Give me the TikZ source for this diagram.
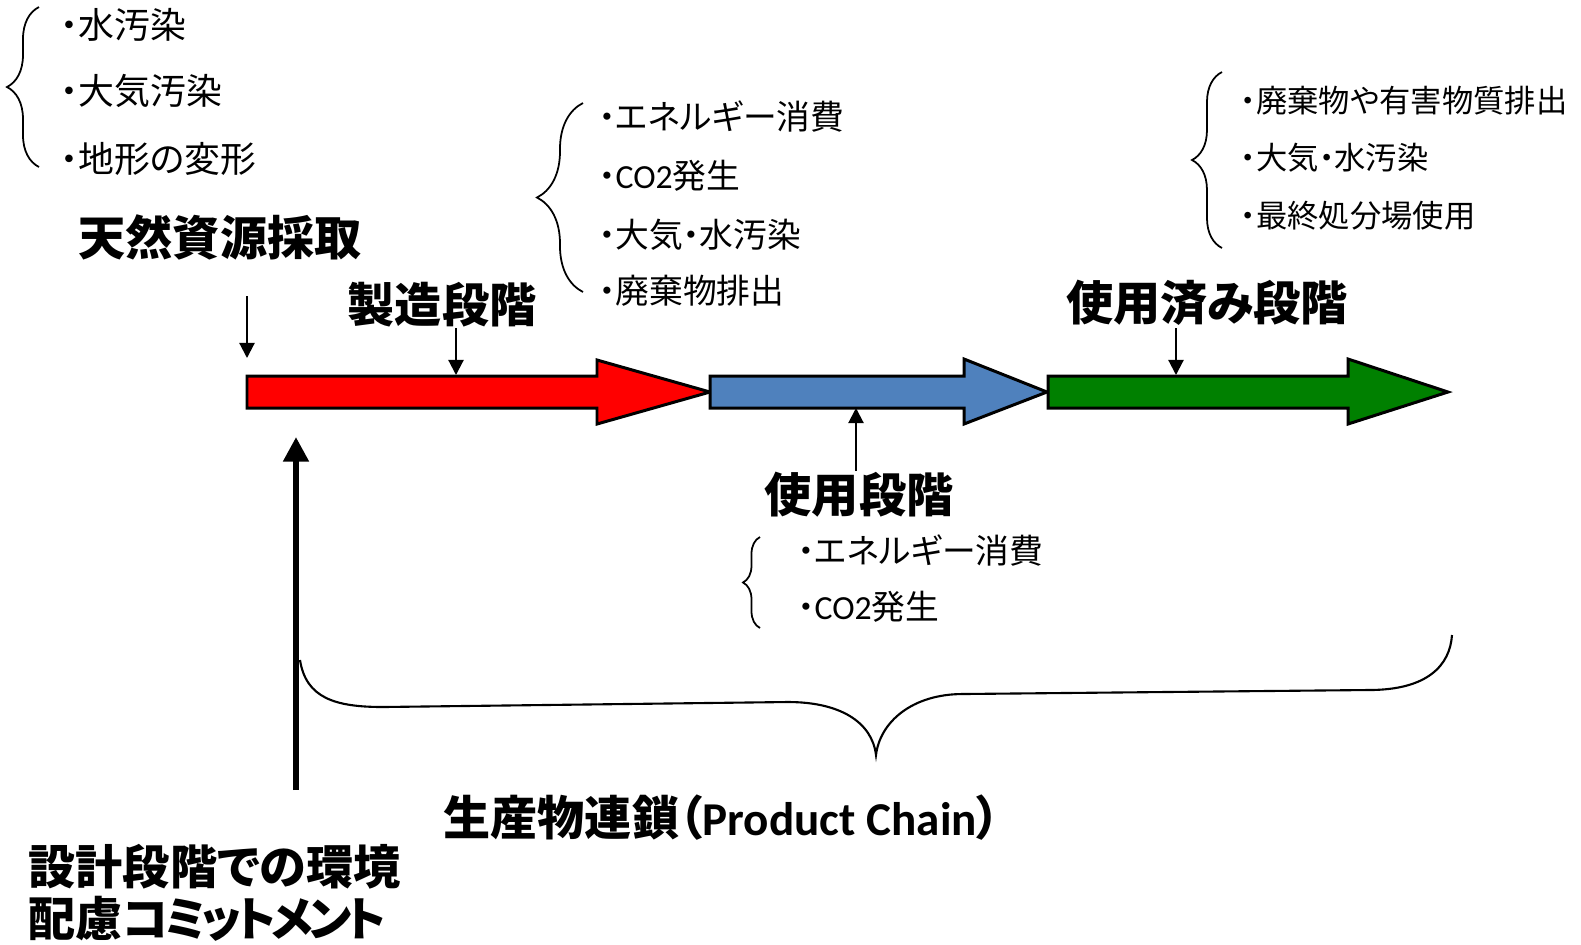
\documentclass[tikz,border=0pt]{standalone}
\usepackage{fontspec}
\newfontfamily\jp[RawFeature={+palt}]{Noto Sans CJK JP}
\newfontfamily\lat{Carlito}
\usetikzlibrary{arrows.meta,decorations.pathreplacing}
\begin{document}
\begin{tikzpicture}[x=0.01cm,y=-0.01cm,
  lst/.style={font=\jp\fontsize{#1}{12pt}\selectfont, inner sep=0pt, anchor=west},
  lst/.default=9.6pt,
  ttl/.style={font=\jp\bfseries\fontsize{13.4pt}{14.8pt}\selectfont, inner sep=0pt},
  stagearrow/.style={draw=black, line width=0.85pt, line join=miter},
  sarrow/.style={-{Triangle[width=4.3pt,length=4.3pt]}, line width=0.6pt},
  bigarrow/.style={-{Triangle[width=7pt,length=7pt]}, line width=1.7pt},
  bracestyle/.style={decorate, decoration={brace, amplitude=#1}, line width=0.5pt},
]
\definecolor{redfill}{RGB}{255,0,0}
\definecolor{bluefill}{RGB}{79,129,189}
\definecolor{greenfill}{RGB}{0,128,0}
\useasboundingbox (0,0) rectangle (1581,944);

% stage arrows
\draw[stagearrow, fill=redfill] (247,376) -- (597,376) -- (597,360) -- (710,392) -- (597,424) -- (597,408) -- (247,408) -- cycle;
\draw[stagearrow, fill=bluefill] (710,376) -- (964,376) -- (964,359) -- (1047,392) -- (964,424) -- (964,408) -- (710,408) -- cycle;
\draw[stagearrow, fill=greenfill] (1048,376) -- (1348,376) -- (1348,359) -- (1448,392) -- (1348,424) -- (1348,408) -- (1048,408) -- cycle;

% titles
\node[ttl] (nat) at (220,237) {天然資源採取};
\node[ttl] (mfg) at (442,305) {製造段階};
\node[ttl] (use) at (859,495) {使用段階};
\node[ttl] (eol) at (1207,303) {使用済み段階};
\node[ttl] (chain) at (722,818) {生産物連鎖（{\lat Product Chain}）};
\node[ttl, align=left, anchor=west] (design) at (28,893) {設計段階での環境\\配慮{\addfontfeature{LetterSpace=-10}コミットメント}};

% small arrows
\coordinate (a1s) at (247,296); \coordinate (a1e) at (247,358);
\coordinate (a2s) at (456,328); \coordinate (a2e) at (456,375);
\coordinate (a3s) at (856,471); \coordinate (a3e) at (856,408);
\coordinate (a4s) at (1176,328); \coordinate (a4e) at (1176,375);
\coordinate (a5s) at (296,790); \coordinate (a5e) at (296,437);
\draw[sarrow] (a1s) -- (a1e);
\draw[sarrow] (a2s) -- (a2e);
\draw[sarrow] (a3s) -- (a3e);
\draw[sarrow] (a4s) -- (a4e);
\draw[bigarrow] (a5s) -- (a5e);

% list 1
\coordinate (b1a) at (39,167); \coordinate (b1b) at (39,7);
\draw[bracestyle=3.2mm] (b1a) -- (b1b);
\node[lst=10.2pt] (l11) at (60,25) {・水汚染};
\node[lst=10.2pt] (l12) at (60,91) {・大気汚染};
\node[lst=10.2pt] (l13) at (60,159) {・地形の変形};

% list 2
\coordinate (b2a) at (583,292); \coordinate (b2b) at (583,103);
\draw[bracestyle=4.6mm] (b2a) -- (b2b);
\node[lst] (l21) at (598,117) {・エネルギー消費};
\node[lst] (l22) at (598,176) {・{\lat CO2}発生};
\node[lst] (l23) at (598,235) {・大気・水汚染};
\node[lst] (l24) at (598,291) {・廃棄物排出};

% list 3
\coordinate (b3a) at (1222,248); \coordinate (b3b) at (1222,72);
\draw[bracestyle=3.0mm] (b3a) -- (b3b);
\node[lst=8.9pt] (l31) at (1240,101) {・廃棄物や有害物質排出};
\node[lst=8.9pt] (l32) at (1240,158) {・大気・水汚染};
\node[lst=8.9pt] (l33) at (1240,216) {・最終処分場使用};

% list 4
\coordinate (b4a) at (760,628); \coordinate (b4b) at (760,537);
\draw[bracestyle=1.7mm] (b4a) -- (b4b);
\node[lst] (l41) at (797,551) {・エネルギー消費};
\node[lst] (l42) at (797,607) {・{\lat CO2}発生};

% big brace
\coordinate (bl) at (300,660);
\coordinate (bt) at (876,755);
\coordinate (br) at (1452,635);
\draw[line width=0.6pt] (bl) .. controls (306,698) and (335,707) .. (383,707) -- (788,702)
  .. controls (840,702) and (872,722) .. (bt)
  .. controls (880,722) and (912,694) .. (963,694) -- (1369,690)
  .. controls (1428,690) and (1450,665) .. (br);
\end{tikzpicture}
\end{document}
